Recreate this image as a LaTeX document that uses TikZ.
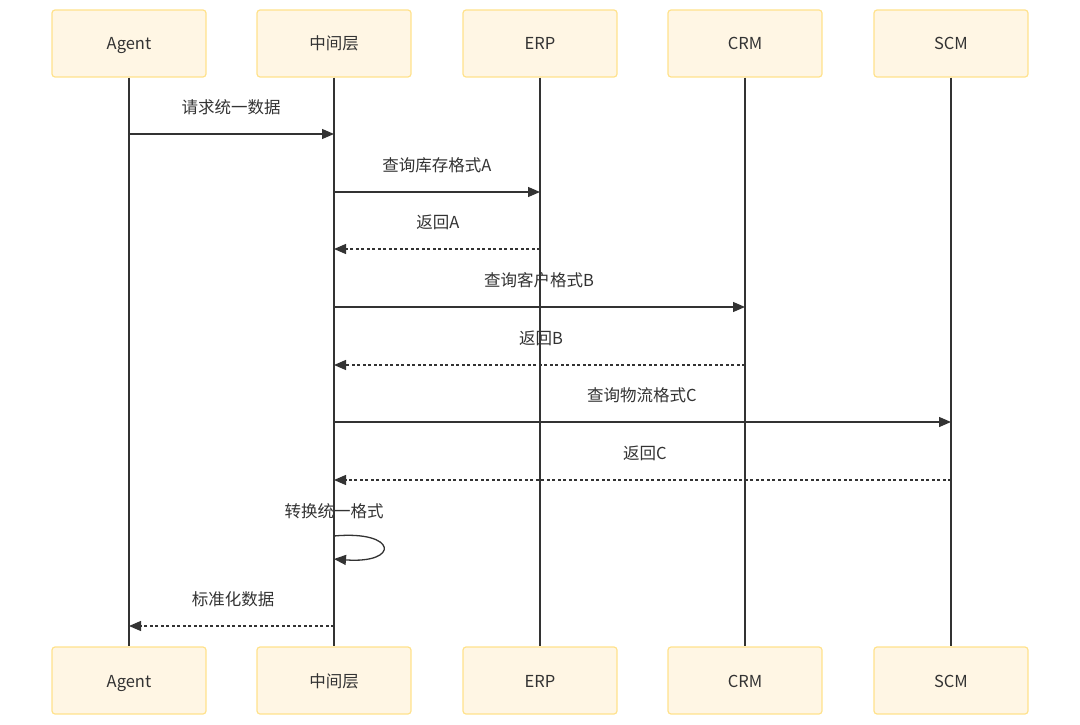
\documentclass[tikz,border=0pt]{standalone}
\usepackage{fontspec}
\setmainfont{Noto Sans CJK SC}
\usepackage{xcolor}
\usepackage{tikz}
\usetikzlibrary{arrows.meta}

\definecolor{boxfill}{HTML}{FFF6E4}
\definecolor{boxline}{HTML}{FFE28C}
\definecolor{ink}{HTML}{333333}

\tikzset{
    actor/.style={draw=boxline, fill=boxfill, line width=1.2pt, rounded corners=3pt,
        minimum width=154pt, minimum height=67pt, font=\fontsize{16.5}{19}\selectfont, text=ink,
        text height=14pt, text depth=1pt},
    life/.style={draw=ink, line width=1.7pt},
    msg/.style={draw=ink, line width=1.3pt, -{Triangle[length=12pt,width=10pt]}},
    reply/.style={msg, dash pattern=on 3pt off 2.5pt},
    lbl/.style={font=\fontsize{16.5}{19}\selectfont, text=ink}
}

\begin{document}
\begin{tikzpicture}[x=1pt,y=-1pt]
        \useasboundingbox (0,0) rectangle (1080,725);

        % Participants, top row
        \node[actor] (agentT) at (129,43.5) {Agent};
        \node[actor] (midT)   at (334,43.5) {中间层};
        \node[actor] (erpT)   at (540,43.5) {ERP};
        \node[actor] (crmT)   at (745,43.5) {CRM};
        \node[actor] (scmT)   at (951,43.5) {SCM};

        % Participants, bottom row
        \node[actor] (agentB) at (129,680.5) {Agent};
        \node[actor] (midB)   at (334,680.5) {中间层};
        \node[actor] (erpB)   at (540,680.5) {ERP};
        \node[actor] (crmB)   at (745,680.5) {CRM};
        \node[actor] (scmB)   at (951,680.5) {SCM};

        % Lifelines
        \draw[life] (agentT) -- (agentB);
        \draw[life] (midT) -- (midB);
        \draw[life] (erpT) -- (erpB);
        \draw[life] (crmT) -- (crmB);
        \draw[life] (scmT) -- (scmB);

        % Message end points
        \coordinate (a1) at (129,134);  \coordinate (m1) at (334,134);
        \coordinate (m2) at (334,192);  \coordinate (e2) at (540,192);
        \coordinate (e3) at (540,249);  \coordinate (m3) at (334,249);
        \coordinate (m4) at (334,307);  \coordinate (c4) at (745,307);
        \coordinate (c5) at (745,365);  \coordinate (m5) at (334,365);
        \coordinate (m6) at (334,422);  \coordinate (s6) at (951,422);
        \coordinate (s7) at (951,480);  \coordinate (m7) at (334,480);
        \coordinate (m8) at (334,536);  \coordinate (m8b) at (334,559);
        \coordinate (m9) at (334,626);  \coordinate (a9) at (129,626);

        % Messages
        \draw[msg] (a1) -- (m1);
        \draw[msg] (m2) -- (e2);
        \draw[reply] (e3) -- (m3);
        \draw[msg] (m4) -- (c4);
        \draw[reply] (c5) -- (m5);
        \draw[msg] (m6) -- (s6);
        \draw[reply] (s7) -- (m7);
        \draw[msg] (m8) .. controls (398,530) and (400,564) .. (m8b);
        \draw[reply] (m9) -- (a9);

        % Labels
        \node[lbl] (l1) at (231,107) {请求统一数据};
        \node[lbl] (l2) at (437,165) {查询库存格式A};
        \node[lbl] (l3) at (438,222) {返回A};
        \node[lbl] (l4) at (539,280) {查询客户格式B};
        \node[lbl] (l5) at (541,338) {返回B};
        \node[lbl] (l6) at (642,395) {查询物流格式C};
        \node[lbl] (l7) at (645,453) {返回C};
        \node[lbl] (l8) at (334,511) {转换统一格式};
        \node[lbl] (l9) at (233,599) {标准化数据};

    \end{tikzpicture}
\end{document}
